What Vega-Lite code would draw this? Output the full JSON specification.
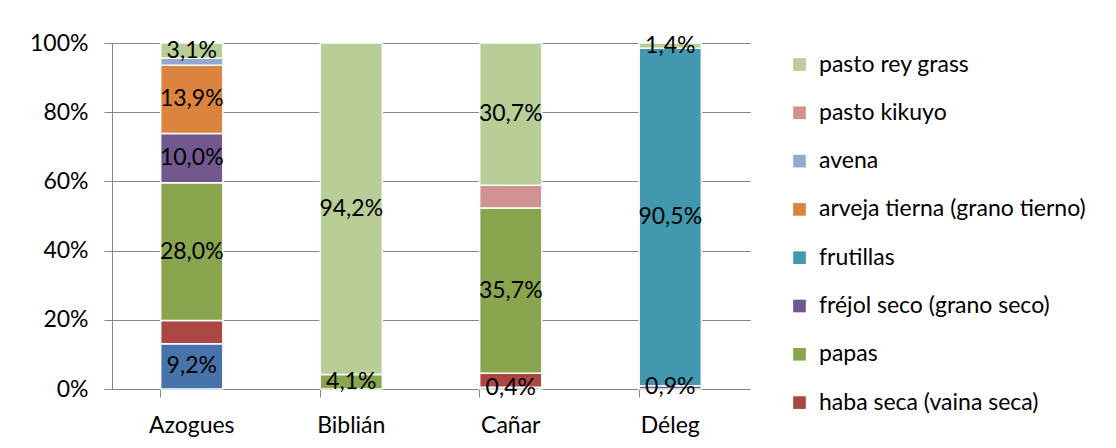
{
  "$schema": "https://vega.github.io/schema/vega-lite/v6.json",
  "autosize": {"type": "none"},
  "width": 638,
  "height": 346,
  "padding": {"left": 112, "top": 43, "right": 366, "bottom": 59},
  "background": "white",
  "config": {
    "font": "Lato",
    "view": {"stroke": null},
    "axis": {"labelFont": "Lato", "labelFontSize": 23, "labelColor": "#000000"}
  },
  "data": {
    "values": [
      {"canton": "Azogues", "cultivo": "maíz suave choclo (en choclo)", "orden": 1, "valor": 9.2, "etiqueta": "9,2%"},
      {"canton": "Azogues", "cultivo": "haba seca (vaina seca)", "orden": 2, "valor": 4.7, "etiqueta": ""},
      {"canton": "Azogues", "cultivo": "papas", "orden": 3, "valor": 28.0, "etiqueta": "28,0%"},
      {"canton": "Azogues", "cultivo": "fréjol seco (grano seco)", "orden": 4, "valor": 10.0, "etiqueta": "10,0%"},
      {"canton": "Azogues", "cultivo": "arveja tierna (grano tierno)", "orden": 6, "valor": 13.9, "etiqueta": "13,9%"},
      {"canton": "Azogues", "cultivo": "avena", "orden": 7, "valor": 1.4, "etiqueta": ""},
      {"canton": "Azogues", "cultivo": "pasto rey grass", "orden": 9, "valor": 3.1, "etiqueta": "3,1%"},
      {"canton": "Biblián", "cultivo": "papas", "orden": 3, "valor": 4.1, "etiqueta": "4,1%"},
      {"canton": "Biblián", "cultivo": "pasto rey grass", "orden": 9, "valor": 94.2, "etiqueta": "94,2%"},
      {"canton": "Cañar", "cultivo": "maíz suave choclo (en choclo)", "orden": 1, "valor": 0.4, "etiqueta": "0,4%"},
      {"canton": "Cañar", "cultivo": "haba seca (vaina seca)", "orden": 2, "valor": 3.0, "etiqueta": ""},
      {"canton": "Cañar", "cultivo": "papas", "orden": 3, "valor": 35.7, "etiqueta": "35,7%"},
      {"canton": "Cañar", "cultivo": "pasto kikuyo", "orden": 8, "valor": 4.9, "etiqueta": ""},
      {"canton": "Cañar", "cultivo": "pasto rey grass", "orden": 9, "valor": 30.7, "etiqueta": "30,7%"},
      {"canton": "Déleg", "cultivo": "fréjol seco (grano seco)", "orden": 4, "valor": 0.9, "etiqueta": "0,9%"},
      {"canton": "Déleg", "cultivo": "frutillas", "orden": 5, "valor": 90.5, "etiqueta": "90,5%"},
      {"canton": "Déleg", "cultivo": "pasto rey grass", "orden": 9, "valor": 1.4, "etiqueta": "1,4%"}
    ]
  },
  "encoding": {
    "x": {
      "field": "canton",
      "type": "nominal",
      "sort": ["Azogues", "Biblián", "Cañar", "Déleg"],
      "scale": {"paddingInner": 0.61, "paddingOuter": 0.305},
      "axis": {
        "title": null,
        "labelAngle": 0,
        "bandPosition": 0,
        "tickSize": 8,
        "tickColor": "#868686",
        "domainColor": "#868686",
        "labelPadding": 17
      }
    },
    "y": {
      "field": "valor",
      "type": "quantitative",
      "stack": "normalize",
      "scale": {"domain": [0, 1]},
      "axis": {
        "title": null,
        "format": ".0%",
        "values": [0, 0.2, 0.4, 0.6, 0.8, 1],
        "grid": true,
        "gridColor": "#868686",
        "tickColor": "#868686",
        "domainColor": "#868686",
        "tickSize": 8,
        "labelPadding": 16
      }
    },
    "order": {"field": "orden", "type": "quantitative", "sort": "ascending"}
  },
  "layer": [
    {
      "mark": {"type": "bar", "stroke": "white", "strokeWidth": 1.5},
      "encoding": {
        "color": {
          "field": "cultivo",
          "type": "nominal",
          "scale": {
            "domain": ["maíz suave choclo (en choclo)", "haba seca (vaina seca)", "papas", "fréjol seco (grano seco)", "frutillas", "arveja tierna (grano tierno)", "avena", "pasto kikuyo", "pasto rey grass"],
            "range": ["#4674AA", "#AA4643", "#89A54E", "#71588F", "#4198AF", "#DB843D", "#93A9CF", "#D19392", "#B9CD96"]
          },
          "legend": {
            "title": null,
            "orient": "none",
            "legendX": 676,
            "legendY": 10,
            "values": ["pasto rey grass", "pasto kikuyo", "avena", "arveja tierna (grano tierno)", "frutillas", "fréjol seco (grano seco)", "papas", "haba seca (vaina seca)"],
            "symbolType": "square",
            "symbolSize": 160,
            "symbolStrokeWidth": 0,
            "labelFont": "Lato",
            "labelFontSize": 23,
            "labelColor": "#000000",
            "labelLimit": 400,
            "rowPadding": 24.3,
            "labelOffset": 8
          }
        }
      }
    },
    {
      "mark": {"type": "text", "font": "Lato", "fontSize": 23, "color": "#000000", "baseline": "middle"},
      "encoding": {
        "y": {"field": "valor", "type": "quantitative", "stack": "normalize", "bandPosition": 0.5},
        "detail": {"field": "cultivo"},
        "text": {"field": "etiqueta"}
      }
    }
  ]
}
